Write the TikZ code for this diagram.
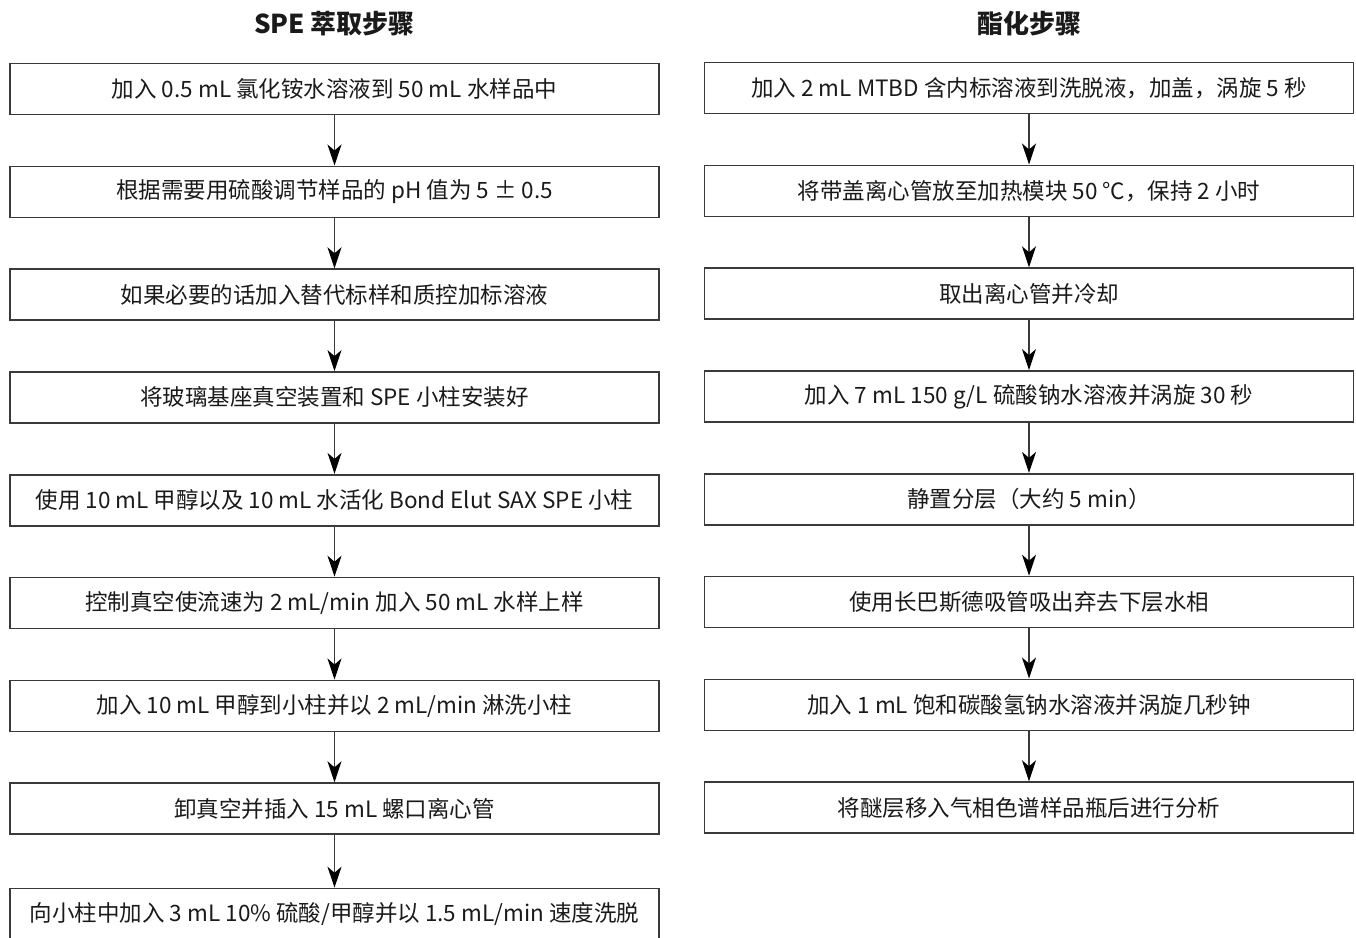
\documentclass[tikz,border=0pt]{standalone}
\usepackage{fontspec}
\setmainfont{Noto Sans CJK SC}
\usetikzlibrary{arrows.meta}
\definecolor{boxline}{HTML}{3A3A3A}
\definecolor{txt}{HTML}{1A1A1A}
\begin{document}
\begin{tikzpicture}[x=1pt,y=1pt,
  stepbox/.style={draw=boxline,line width=1.6pt,minimum width=649pt,minimum height=51pt,inner sep=0pt,text=txt,font=\fontsize{22.5}{26}\selectfont},
  flow/.style={draw=boxline,line width=1.3pt,-{Stealth[length=21pt,width=14pt,inset=6pt,color=black]}},
  titlestyle/.style={font=\fontsize{26}{30}\selectfont\bfseries,text=txt}]
\useasboundingbox (0,0) rectangle (1356,-937);
\clip (0,0) rectangle (1356,-937);
% titles
\node[titlestyle] (tl) at (334.5,-24) {SPE 萃取步骤};
\node[titlestyle] (tr) at (1029,-24) {酯化步骤};
% left column
\node[stepbox] (L1) at (334.5,-89) {加入 0.5 mL 氯化铵水溶液到 50 mL 水样品中};
\node[stepbox] (L2) at (334.5,-191.8) {根据需要用硫酸调节样品的 pH 值为 5 ± 0.5};
\node[stepbox] (L3) at (334.5,-294.6) {如果必要的话加入替代标样和质控加标溶液};
\node[stepbox] (L4) at (334.5,-397.4) {将玻璃基座真空装置和 SPE 小柱安装好};
\node[stepbox] (L5) at (334.5,-500.2) {使用 10 mL 甲醇以及 10 mL 水活化 Bond Elut SAX SPE 小柱};
\node[stepbox] (L6) at (334.5,-603) {控制真空使流速为 2 mL/min 加入 50 mL 水样上样};
\node[stepbox] (L7) at (334.5,-705.8) {加入 10 mL 甲醇到小柱并以 2 mL/min 淋洗小柱};
\node[stepbox] (L8) at (334.5,-808.6) {卸真空并插入 15 mL 螺口离心管};
\node[stepbox] (L9) at (334.5,-914) {向小柱中加入 3 mL 10\% 硫酸/甲醇并以 1.5 mL/min 速度洗脱};
% right column
\node[stepbox] (R1) at (1029,-88) {加入 2 mL MTBD 含内标溶液到洗脱液，加盖，涡旋 5 秒};
\node[stepbox] (R2) at (1029,-190.8) {将带盖离心管放至加热模块 50 °C，保持 2 小时};
\node[stepbox] (R3) at (1029,-293.6) {取出离心管并冷却};
\node[stepbox] (R4) at (1029,-396.4) {加入 7 mL 150 g/L 硫酸钠水溶液并涡旋 30 秒};
\node[stepbox] (R5) at (1029,-499.2) {静置分层（大约 5 min）};
\node[stepbox] (R6) at (1029,-602) {使用长巴斯德吸管吸出弃去下层水相};
\node[stepbox] (R7) at (1029,-704.8) {加入 1 mL 饱和碳酸氢钠水溶液并涡旋几秒钟};
\node[stepbox] (R8) at (1029,-807.6) {将醚层移入气相色谱样品瓶后进行分析};
% connectors
\foreach \a/\b in {L1/L2,L2/L3,L3/L4,L4/L5,L5/L6,L6/L7,L7/L8,L8/L9,R1/R2,R2/R3,R3/R4,R4/R5,R5/R6,R6/R7,R7/R8}
  \draw[flow] (\a.south) -- (\b.north);
\end{tikzpicture}
\end{document}
